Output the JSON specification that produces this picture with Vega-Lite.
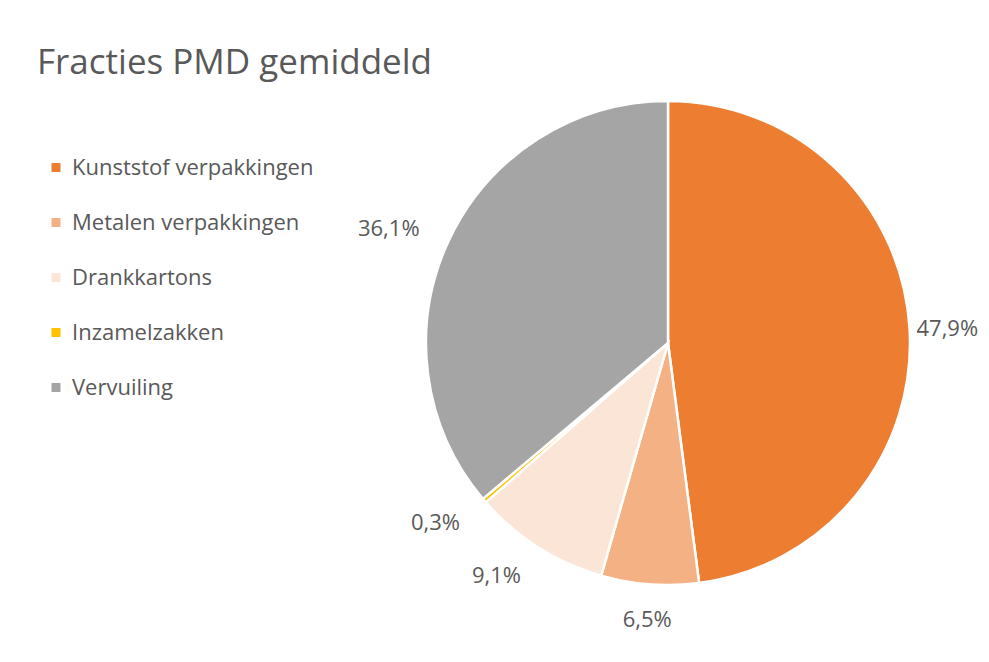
{
  "$schema": "https://vega.github.io/schema/vega-lite/v6.json",
  "width": 560,
  "height": 506,
  "autosize": {"type": "none"},
  "padding": {"left": 388, "top": 90, "right": 41, "bottom": 66},
  "background": "white",
  "title": {
    "text": "Fracties PMD gemiddeld",
    "anchor": "start",
    "frame": "group",
    "orient": "top",
    "baseline": "alphabetic",
    "offset": -19,
    "dx": -351,
    "font": "Open Sans",
    "fontSize": 35,
    "fontWeight": "normal",
    "color": "#595959"
  },
  "config": {
    "view": {"stroke": null},
    "font": "Open Sans"
  },
  "data": {
    "values": [
      {"fractie": "Kunststof verpakkingen", "aandeel": 47.9, "label": "47,9%", "volgorde": 1},
      {"fractie": "Metalen verpakkingen", "aandeel": 6.5, "label": "6,5%", "volgorde": 2},
      {"fractie": "Drankkartons", "aandeel": 9.1, "label": "9,1%", "volgorde": 3},
      {"fractie": "Inzamelzakken", "aandeel": 0.3, "label": "0,3%", "volgorde": 4},
      {"fractie": "Vervuiling", "aandeel": 36.1, "label": "36,1%", "volgorde": 5}
    ]
  },
  "encoding": {
    "theta": {"field": "aandeel", "type": "quantitative", "stack": true},
    "order": {"field": "volgorde", "type": "quantitative", "sort": "ascending"}
  },
  "layer": [
    {
      "mark": {"type": "arc", "radius": 242, "stroke": "white", "strokeWidth": 2.5},
      "encoding": {
        "color": {
          "field": "fractie",
          "type": "nominal",
          "scale": {
            "domain": ["Kunststof verpakkingen", "Metalen verpakkingen", "Drankkartons", "Inzamelzakken", "Vervuiling"],
            "range": ["#ED7D31", "#F4B183", "#FBE5D6", "#FFC000", "#A5A5A5"]
          },
          "legend": {
            "title": null,
            "orient": "none",
            "legendX": -343,
            "legendY": 66.5,
            "padding": 0,
            "symbolType": "square",
            "symbolSize": 81,
            "symbolStrokeWidth": 0,
            "labelFont": "Open Sans",
            "labelFontSize": 22,
            "labelColor": "#595959",
            "labelOffset": 5,
            "rowPadding": 33,
            "labelLimit": 400
          }
        }
      }
    },
    {
      "mark": {
        "type": "text",
        "font": "Open Sans",
        "fontSize": 22,
        "color": "#595959",
        "dy": 2,
        "align": {"expr": "(datum.aandeel_start + datum.aandeel_end) / 2 > 55 ? 'right' : ((datum.aandeel_start + datum.aandeel_end) / 2 > 45 ? 'center' : 'left')"},
        "radius": {"expr": "(datum.aandeel_start + datum.aandeel_end) / 2 > 55 ? 274 : ((datum.aandeel_start + datum.aandeel_end) / 2 > 45 ? 276 : 249)"}
      },
      "encoding": {
        "detail": {"field": "fractie", "type": "nominal"},
        "text": {"field": "label", "type": "nominal"}
      }
    }
  ]
}
